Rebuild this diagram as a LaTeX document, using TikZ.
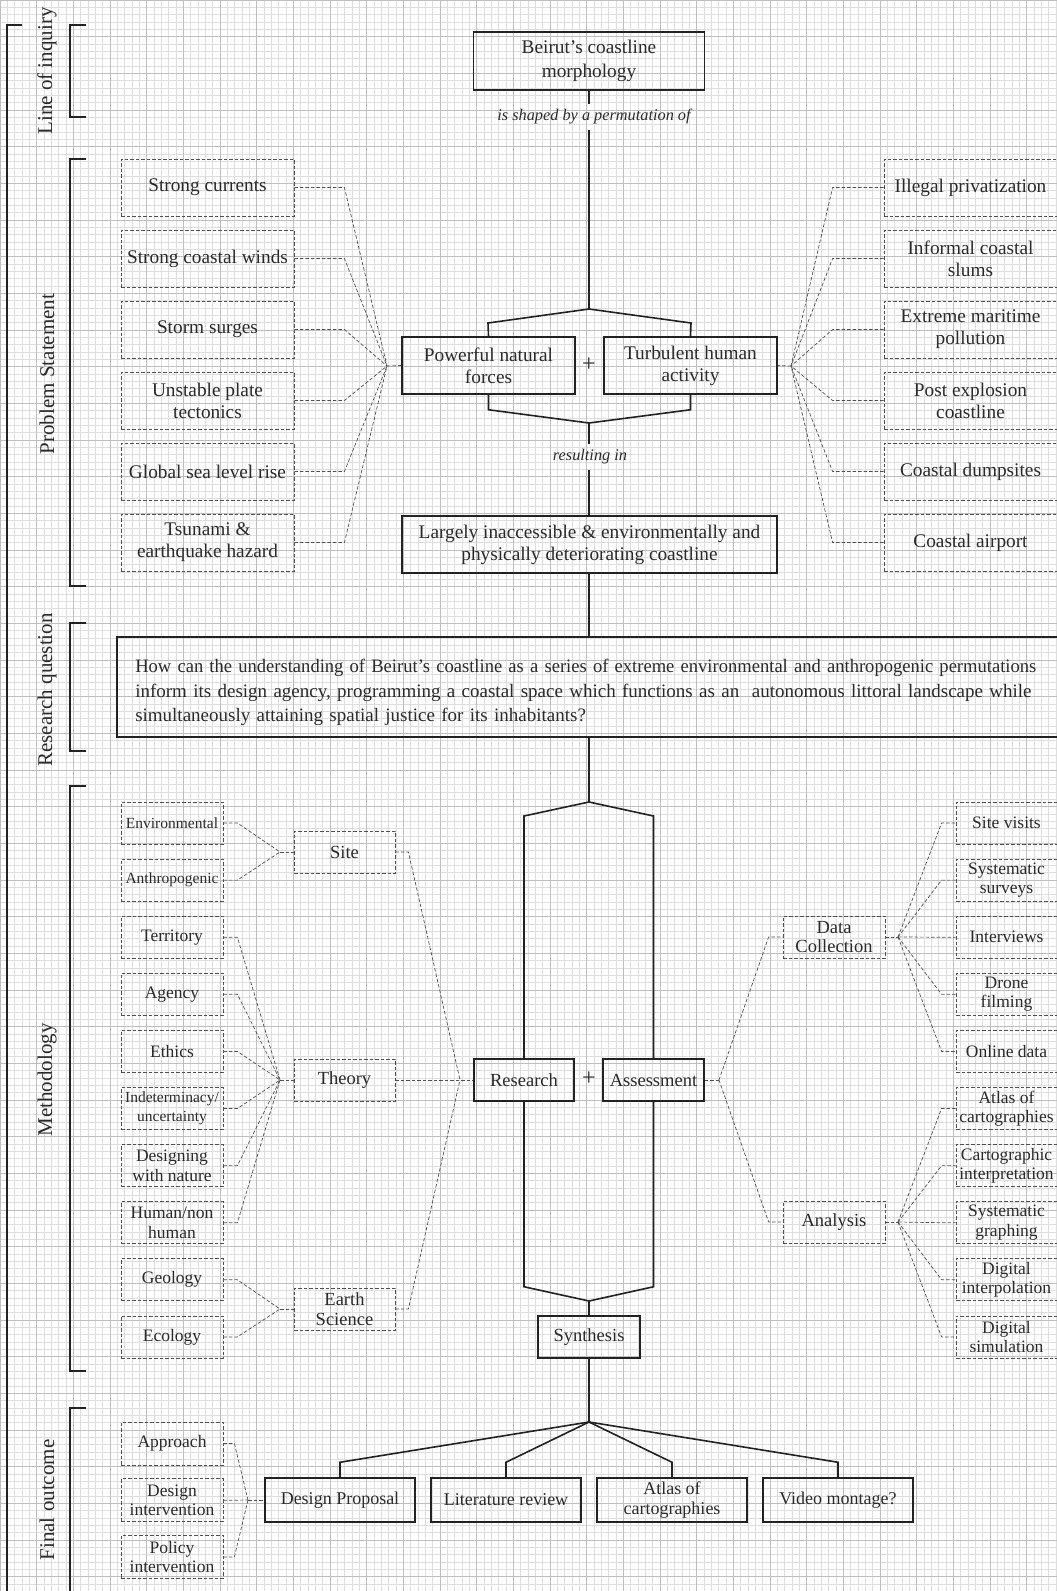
\documentclass[tikz,border=0pt]{standalone}
\usepackage{fontspec}
\setmainfont{Liberation Serif}
\usepackage{tikz}
\usetikzlibrary{positioning, calc}
\definecolor{inkdark}{HTML}{222222}
\definecolor{inktext}{HTML}{2A2A2A}
\definecolor{dashgray}{HTML}{505050}
\definecolor{gridminor}{HTML}{DEDEDE}
\definecolor{gridmajor}{HTML}{BEBEBE}
\newcommand{\psize}{\fontsize{19.3}{22}\selectfont}
\newcommand{\msize}{\fontsize{17.5}{19.5}\selectfont}
\newcommand{\ssize}{\fontsize{15.5}{19.5}\selectfont}
\newcommand{\midfont}{\fontsize{18.5}{19.5}\selectfont}
\newcommand{\qsize}{\fontsize{19}{24.5}\selectfont}
\newcommand{\squeeze}[2]{\scalebox{#1}[1]{#2}}

\begin{document}
\begin{tikzpicture}[
    x=1pt, y=-1pt,
    mainbox/.style={draw=inkdark, line width=1.5pt, align=center, text=inktext, font=\psize, inner sep=1pt},
    midbox/.style={mainbox, font=\midfont, minimum height=42pt},
    causebox/.style={draw=dashgray, line width=0.8pt, dash pattern=on 3.5pt off 2pt, align=center, text=inktext, font=\psize, minimum width=173pt, minimum height=57pt, inner sep=1pt},
    methbox/.style={causebox, font=\msize, minimum width=102pt, minimum height=42pt},
    hubbox/.style={methbox, font=\midfont},
    link/.style={draw=inkdark, line width=1.6pt},
    dlink/.style={draw=dashgray, line width=0.7pt, dash pattern=on 3.5pt off 2pt},
    bracket/.style={draw=inkdark, line width=2.2pt},
    sect/.style={rotate=90, text=inktext, font=\fontsize{21}{24}\selectfont},
    note/.style={text=inktext, font=\itshape\fontsize{16.3}{18}\selectfont, inner ysep=5pt},
    plussign/.style={text=inktext, font=\fontsize{24}{24}\selectfont},
]
    \useasboundingbox (0,0) rectangle (1057,1591);
    \clip (0,0) rectangle (1057,1591);
    \fill[white] (0,0) rectangle (1057,1591);

    % Graph paper
    \draw[gridminor, line width=0.5pt, step=7.333pt] (0,0) grid (1057,1591);
    \draw[gridmajor, line width=0.6pt, step=36.667pt] (0,0) grid (1057,1591);

    % Section brackets
    \draw[bracket] (22,25) -- (7,25) -- (7,1600);
    \draw[bracket] (86,25) -- (70,25) -- (70,117) -- (86,117);
    \draw[bracket] (86,159) -- (70,159) -- (70,586) -- (86,586);
    \draw[bracket] (86,623) -- (70,623) -- (70,751) -- (86,751);
    \draw[bracket] (86,786) -- (70,786) -- (70,1371) -- (86,1371);
    \draw[bracket] (86,1408) -- (70,1408) -- (70,1600);
    \node[sect] (lbinq) at (47,71) {Line of inquiry};
    \node[sect] (lbprob) at (47,374) {Problem Statement};
    \node[sect] (lbques) at (47,690) {Research question};
    \node[sect] (lbmeth) at (47,1080) {Methodology};
    \node[sect] (lbout) at (47,1500) {Final outcome};

    % Line of inquiry
    \node[mainbox, minimum width=231pt, minimum height=58pt, font=\fontsize{19.3}{24}\selectfont] (top) at (589,61) {Beirut’s coastline\\morphology};
    \node[note] (shaped) at (594,117) {is shaped by a permutation of};

    % Problem statement
    \node[mainbox, minimum width=173pt, minimum height=57pt] (nat) at (488.5,365.5) {Powerful natural\\forces};
    \node[mainbox, minimum width=173pt, minimum height=57pt] (tur) at (690.5,365.5) {Turbulent human\\activity};
    \node[plussign] (plus1) at (589,365) {+};
    \node[note] (resulting) at (590,457) {resulting in};
    \node[mainbox, minimum width=375pt, minimum height=57pt] (deter) at (589.5,544.5) {Largely inaccessible \& environmentally and\\physically deteriorating coastline};

    \coordinate (fork1) at (589,309);
    \coordinate (join1) at (589,423);
    \coordinate (hubL) at (387,366);
    \coordinate (hubR) at (791,366);

    \foreach \txt [count=\i from 0] in {{Strong currents}, {Strong coastal winds}, {Storm surges}, {Unstable plate\\tectonics}, {Global sea level rise}, {Tsunami \&\\earthquake hazard}}
        \node[causebox] (cl\i) at (207.5, 187.5+71*\i) {\txt};
    \foreach \txt [count=\i from 0] in {{Illegal privatization}, {Informal coastal\\slums}, {Extreme maritime\\pollution}, {Post explosion\\coastline}, {Coastal dumpsites}, {Coastal airport}}
        \node[causebox] (cr\i) at (970.5, 187.5+71*\i) {\txt};

    \draw[link] (top.south) -- (top.south |- shaped.north);
    \draw[link] (shaped.south -| top.south) -- (fork1);
    \draw[link] (fork1) -- ++(-101,14) -- (nat.north);
    \draw[link] (fork1) -- ++(102,14) -- (tur.north);
    \draw[link] (nat.south) -- ++(0,15) -- (join1);
    \draw[link] (tur.south) -- ++(0,15) -- (join1);
    \draw[link] (join1) -- (join1 |- resulting.north);
    \draw[link] (resulting.south -| join1) -- (join1 |- deter.north);

    \foreach \i in {0,...,5} {
        \draw[dlink] (cl\i.east) -- ++(50,0) -- (hubL);
        \draw[dlink] (cr\i.west) -- ++(-51,0) -- (hubR);
    }
    \draw[dlink] (hubL) -- (nat.west);
    \draw[dlink] (hubR) -- (tur.east);

    % Research question
    \node[mainbox, anchor=west, font=\qsize, align=left, text width=904pt, inner xsep=18.5pt, inner ysep=0pt, minimum height=100pt] (question) at (116,687)
        {\rule{0pt}{25pt}\squeeze{0.977}{How can the understanding of Beirut’s coastline as a series of extreme environmental and anthropogenic permutations}\\
         inform its design agency, programming a coastal space which functions as an~ autonomous littoral landscape while\\
         simultaneously attaining spatial justice for its inhabitants?};
    \draw[link] (join1 |- deter.south) -- (join1 |- question.north);

    % Methodology
    \coordinate (fork2) at (589,802);
    \coordinate (join2) at (589,1301);
    \node[midbox, minimum width=100pt] (research) at (524,1080) {Research};
    \node[midbox, minimum width=101pt] (assess) at (653.5,1080) {Assessment};
    \node[plussign] (plus2) at (589,1079) {+};
    \node[midbox, minimum width=102pt] (synth) at (589,1337) {Synthesis};

    \draw[link] (question.south -| fork2) -- (fork2);
    \draw[link] (fork2) -- ++(-65,14) -- (research.north);
    \draw[link] (fork2) -- ++(64.5,14) -- (assess.north);
    \draw[link] (research.south) -- ++(0,185) -- (join2);
    \draw[link] (assess.south) -- ++(0,185) -- (join2);
    \draw[link] (join2) -- (synth.north);

    % Left branches
    \foreach \txt [count=\i from 0] in {{\ssize Environmental}, {\ssize Anthropogenic}, {Territory}, {Agency}, {Ethics}, {\ssize Indeterminacy/\\\ssize uncertainty}, {Designing\\with nature}, {Human/non\\human}, {Geology}, {Ecology}}
        \node[methbox] (ml\i) at (172, 823+57.1*\i) {\txt};
    \node[hubbox, minimum width=101pt] (site) at (344.5,852) {Site};
    \node[hubbox, minimum width=101pt] (theory) at (344.5,1080) {Theory};
    \node[hubbox, minimum width=101pt] (earth) at (344.5,1309) {Earth\\Science};
    \coordinate (hubSite) at (280,852);
    \coordinate (hubTheory) at (280,1080);
    \coordinate (hubEarth) at (280,1309);
    \coordinate (hubRes) at (460,1080);

    \foreach \i in {0,1}
        \draw[dlink] (ml\i.east) -- ++(14,0) -- (hubSite);
    \foreach \i in {2,...,7}
        \draw[dlink] (ml\i.east) -- ++(14,0) -- (hubTheory);
    \foreach \i in {8,9}
        \draw[dlink] (ml\i.east) -- ++(14,0) -- (hubEarth);
    \draw[dlink] (hubSite) -- (site.west);
    \draw[dlink] (hubTheory) -- (theory.west);
    \draw[dlink] (hubEarth) -- (earth.west);
    \draw[dlink] (site.east) -- ++(13,0) -- (hubRes);
    \draw[dlink] (earth.east) -- ++(13,0) -- (hubRes);
    \draw[dlink] (theory.east) -- (hubRes) -- (research.west);

    % Right branches
    \node[hubbox] (dc) at (834,937) {Data\\Collection};
    \node[hubbox] (analysis) at (834,1222) {Analysis};
    \coordinate (hubAss) at (719,1080);
    \coordinate (hubDC) at (898,937);
    \coordinate (hubAn) at (898,1222);
    \foreach \txt [count=\i from 0] in {{Site visits}, {Systematic\\surveys}, {Interviews}, {Drone\\filming}, {Online data}, {Atlas of\\cartographies}, {Cartographic\\interpretation}, {Systematic\\graphing}, {Digital\\interpolation}, {Digital\\simulation}}
        \node[methbox, minimum width=101pt] (mr\i) at (1006.5, 823+57.1*\i) {\txt};

    \draw[dlink] (assess.east) -- (hubAss);
    \draw[dlink] (hubAss) -- ([xshift=-14pt]dc.west) -- (dc.west);
    \draw[dlink] (hubAss) -- ([xshift=-14pt]analysis.west) -- (analysis.west);
    \draw[dlink] (dc.east) -- (hubDC);
    \draw[dlink] (analysis.east) -- (hubAn);
    \foreach \i in {0,...,4}
        \draw[dlink] (hubDC) -- ([xshift=-14pt]mr\i.west) -- (mr\i.west);
    \foreach \i in {5,...,9}
        \draw[dlink] (hubAn) -- ([xshift=-14pt]mr\i.west) -- (mr\i.west);

    % Final outcome
    \coordinate (fork3) at (589,1422);
    \foreach \txt/\xc [count=\i from 0] in {{Design Proposal}/340, {Literature review}/506, {Atlas of\\cartographies}/672, {Video montage?}/838}
        \node[midbox, minimum width=150pt, minimum height=44pt, font=\fontsize{18}{19.5}\selectfont] (out\i) at (\xc,1500) {\txt};
    \draw[link] (synth.south) -- (fork3);
    \foreach \i in {0,...,3}
        \draw[link] (fork3) -- ([yshift=15pt]out\i.north) -- (out\i.north);

    \foreach \txt [count=\i from 0] in {{Approach}, {Design\\intervention}, {Policy\\intervention}}
        \node[methbox, minimum height=43pt] (fo\i) at (172, 1443.5+56.7*\i) {\txt};
    \coordinate (hubOut) at (248,1500);
    \foreach \i in {0,1,2}
        \draw[dlink] (fo\i.east) -- ++(11,0) -- (hubOut);
    \draw[dlink] (hubOut) -- (out0.west);
\end{tikzpicture}
\end{document}
